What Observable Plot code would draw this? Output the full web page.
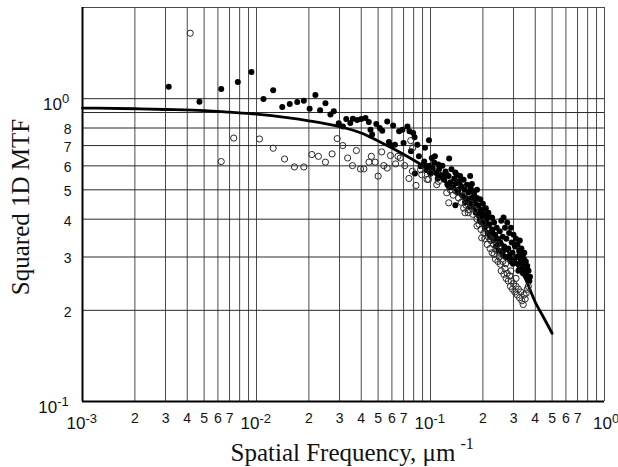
<!DOCTYPE html>
<html><head><meta charset="utf-8">
<script src="https://cdn.jsdelivr.net/npm/d3@7"></script>
<script src="https://cdn.jsdelivr.net/npm/@observablehq/plot@0.6"></script>
<style>body{margin:0;background:#fff} svg{display:block}</style>
</head><body><div id="chart"></div>
<script>
// Model curve (squared 1D MTF)
const curveX = [0.001, 0.002, 0.003, 0.005, 0.007, 0.01, 0.015, 0.02, 0.03, 0.04, 0.05, 0.07, 0.1, 0.13, 0.15, 0.2, 0.25, 0.3, 0.35, 0.4, 0.45, 0.5];
const curveY = [0.931, 0.926, 0.921, 0.913, 0.902, 0.889, 0.866, 0.845, 0.808, 0.77, 0.725, 0.655, 0.578, 0.515, 0.478, 0.402, 0.341, 0.293, 0.255, 0.213, 0.188, 0.168];

// Filled circles
const filledX = [0.00313, 0.0047, 0.00627, 0.00781, 0.00936, 0.01097, 0.01247, 0.01406, 0.01553, 0.01714, 0.01871, 0.0218, 0.0202, 0.0232, 0.0249, 0.0278, 0.0266, 0.0297, 0.0314, 0.0328, 0.0346, 0.0358, 0.0379, 0.04, 0.0423, 0.0442, 0.0452, 0.0462, 0.0488, 0.0511, 0.0528, 0.0564, 0.061, 0.0577, 0.0596, 0.0625, 0.066, 0.069, 0.0737, 0.0757, 0.0795, 0.081, 0.070, 0.0772, 0.084, 0.0858, 0.093, 0.098, 0.0877, 0.0915, 0.1017, 0.106, 0.111, 0.128, 0.0814, 0.124, 0.139, 0.148, 0.169, 0.173, 0.139, 0.176, 0.185,
  0.092, 0.095, 0.098, 0.10, 0.103, 0.105, 0.108, 0.11, 0.112, 0.115, 0.117, 0.12, 0.122, 0.125, 0.127, 0.13, 0.132, 0.135, 0.137, 0.14, 0.142, 0.145, 0.147, 0.15, 0.152, 0.155, 0.157, 0.16, 0.162, 0.165, 0.167, 0.17, 0.172, 0.175, 0.178, 0.18, 0.183, 0.185, 0.188, 0.19, 0.193, 0.195, 0.198, 0.20, 0.203, 0.205, 0.208, 0.21, 0.213, 0.215, 0.218, 0.22, 0.223, 0.226, 0.23, 0.232, 0.235, 0.238, 0.24, 0.243, 0.246, 0.25, 0.252, 0.255, 0.258, 0.26, 0.263, 0.265, 0.268, 0.27, 0.273, 0.276, 0.28, 0.283, 0.286, 0.29, 0.293, 0.296, 0.30, 0.303, 0.306, 0.31, 0.313, 0.316, 0.32, 0.323, 0.326, 0.33, 0.333, 0.336, 0.34, 0.343, 0.346, 0.35, 0.353, 0.356, 0.36, 0.363, 0.366, 0.37, 0.373, 0.32, 0.34, 0.28, 0.26, 0.29, 0.197, 0.212, 0.226,
  0.118, 0.128, 0.143, 0.158, 0.168, 0.182, 0.192, 0.207, 0.217, 0.228, 0.245, 0.262, 0.278, 0.298, 0.318, 0.338, 0.358, 0.305, 0.325, 0.345];
const filledY = [1.095, 0.977, 1.076, 1.134, 1.224, 0.997, 1.067, 0.938, 0.96, 0.975, 0.985, 1.028, 0.927, 0.915, 0.965, 0.908, 0.886, 0.829, 0.809, 0.857, 0.831, 0.859, 0.85, 0.857, 0.863, 0.837, 0.79, 0.761, 0.825, 0.8, 0.784, 0.841, 0.815, 0.719, 0.70, 0.705, 0.78, 0.79, 0.81, 0.78, 0.77, 0.746, 0.714, 0.67, 0.705, 0.645, 0.688, 0.729, 0.598, 0.606, 0.637, 0.645, 0.606, 0.635, 0.566, 0.561, 0.57, 0.555, 0.555, 0.523, 0.445, 0.495, 0.47,
  0.62, 0.58, 0.60, 0.565, 0.59, 0.615, 0.57, 0.545, 0.585, 0.56, 0.60, 0.54, 0.575, 0.52, 0.555, 0.53, 0.585, 0.51, 0.545, 0.525, 0.56, 0.50, 0.535, 0.515, 0.48, 0.54, 0.50, 0.47, 0.52, 0.49, 0.455, 0.505, 0.47, 0.44, 0.485, 0.455, 0.425, 0.50, 0.445, 0.41, 0.465, 0.43, 0.39, 0.45, 0.415, 0.375, 0.435, 0.40, 0.36, 0.42, 0.385, 0.35, 0.405, 0.37, 0.34, 0.39, 0.355, 0.325, 0.375, 0.345, 0.315, 0.365, 0.335, 0.395, 0.31, 0.35, 0.405, 0.325, 0.375, 0.30, 0.345, 0.39, 0.32, 0.36, 0.295, 0.375, 0.335, 0.31, 0.355, 0.29, 0.325, 0.345, 0.30, 0.33, 0.285, 0.315, 0.34, 0.295, 0.32, 0.275, 0.305, 0.285, 0.31, 0.27, 0.29, 0.26, 0.28, 0.255, 0.27, 0.25, 0.258, 0.27, 0.265, 0.30, 0.305, 0.29, 0.425, 0.415, 0.404,
  0.55, 0.51, 0.49, 0.455, 0.44, 0.42, 0.395, 0.38, 0.36, 0.355, 0.33, 0.315, 0.30, 0.285, 0.30, 0.29, 0.27, 0.33, 0.31, 0.295];

// Open circles
const openX = [0.00416, 0.00627, 0.0074, 0.0104, 0.01247, 0.0145, 0.01652, 0.01871, 0.0208, 0.0227, 0.0249, 0.0272, 0.0291, 0.0313, 0.0334, 0.0356, 0.0375, 0.0396, 0.0414, 0.0443, 0.0457, 0.0481, 0.05, 0.0524, 0.0539, 0.0564, 0.0589, 0.063, 0.065, 0.067, 0.0711, 0.0752, 0.0787, 0.077, 0.079, 0.0826, 0.089, 0.0974, 0.1086, 0.1273, 0.158, 0.165, 0.185, 0.197,
  0.0877, 0.10, 0.0956, 0.111, 0.124, 0.155, 0.13, 0.135, 0.14, 0.145, 0.15, 0.155, 0.16, 0.165, 0.17, 0.175, 0.18, 0.185, 0.19, 0.195, 0.20, 0.2026, 0.205, 0.21, 0.212, 0.215, 0.22, 0.222, 0.226, 0.23, 0.232, 0.236, 0.24, 0.244, 0.248, 0.252, 0.255, 0.26, 0.264, 0.268, 0.272, 0.276, 0.28, 0.285, 0.288, 0.292, 0.296, 0.30, 0.305, 0.31, 0.315, 0.32, 0.325, 0.33, 0.335, 0.341, 0.345, 0.35, 0.355, 0.36, 0.365, 0.25, 0.27, 0.29, 0.31, 0.22, 0.24];
const openY = [1.645, 0.62, 0.741, 0.736, 0.686, 0.632, 0.595, 0.595, 0.654, 0.645, 0.617, 0.657, 0.738, 0.70, 0.637, 0.601, 0.674, 0.586, 0.586, 0.617, 0.645, 0.617, 0.555, 0.667, 0.601, 0.59, 0.649, 0.609, 0.645, 0.637, 0.601, 0.545, 0.576, 0.727, 0.688, 0.517, 0.561, 0.541, 0.52, 0.453, 0.42, 0.42, 0.38, 0.347,
  0.583, 0.569, 0.541, 0.533, 0.489, 0.435, 0.50, 0.48, 0.495, 0.47, 0.455, 0.475, 0.445, 0.43, 0.45, 0.415, 0.43, 0.40, 0.385, 0.37, 0.39, 0.36, 0.345, 0.37, 0.33, 0.35, 0.32, 0.34, 0.31, 0.33, 0.306, 0.295, 0.315, 0.29, 0.30, 0.284, 0.27, 0.29, 0.263, 0.275, 0.255, 0.265, 0.25, 0.26, 0.24, 0.25, 0.235, 0.245, 0.23, 0.24, 0.225, 0.235, 0.22, 0.23, 0.215, 0.209, 0.225, 0.218, 0.228, 0.235, 0.24, 0.31, 0.285, 0.27, 0.255, 0.345, 0.33];

// Ticks and labels
const xDecades = [0.001, 0.01, 0.1];
const gridMultipliers = [1, 2, 3, 4, 5, 6, 7, 8, 9];
const xMinorMultipliers = [2, 3, 4, 5, 6, 7];
const xMajorTicks = [0.001, 0.01, 0.1, 1];
const xMajorExp = ["-3", "-2", "-1", "0"];
const yGridValues = [0.2, 0.3, 0.4, 0.5, 0.6, 0.7, 0.8, 0.9, 1];
const yMinorTicks = [0.2, 0.3, 0.4, 0.5, 0.6, 0.7, 0.8];
const yMinorLabels = ["2", "3", "4", "5", "6", "7", "8"];
const yMajorTicks = [0.1, 1];
const yMajorExp = ["-1", "0"];
const xTitle = "Spatial Frequency, \u03bcm";
const xTitleSup = "-1";
const yTitle = "Squared 1D MTF";

const curve = curveX.map((x, i) => ({x, y: curveY[i]}));
const filled = filledX.map((x, i) => ({x, y: filledY[i]}));
const open = openX.map((x, i) => ({x, y: openY[i]}));
const xGrid = xDecades.flatMap(d => gridMultipliers.map(m => d * m)).concat([1]);
const xMinor = xDecades.flatMap(d => xMinorMultipliers.map(m => ({v: d * m, t: String(m)})));
const xMajor = xMajorTicks.map((v, i) => ({v, e: xMajorExp[i]}));
const yMinor = yMinorTicks.map((v, i) => ({v, t: yMinorLabels[i]}));
const yMajor = yMajorTicks.map((v, i) => ({v, e: yMajorExp[i]}));

const sans = "'Liberation Sans', Arial, Helvetica, sans-serif";
const serif = "'Liberation Serif', 'Times New Roman', serif";

const chart = Plot.plot({
  width: 618, height: 467,
  marginLeft: 82, marginRight: 14, marginTop: 7, marginBottom: 66,
  x: {type: "log", domain: [0.001, 1], axis: null},
  y: {type: "log", domain: [0.1, 2], axis: null},
  style: {fontFamily: sans, background: "white", color: "#111"},
  marks: [
    Plot.ruleX(xGrid, {stroke: "#4a4a4a", strokeWidth: 1}),
    Plot.ruleY(yGridValues, {stroke: "#2a2a2a", strokeWidth: 1}),
    Plot.ruleY([2], {stroke: "#4a4a4a", strokeWidth: 1}),
    Plot.ruleX([0.001], {stroke: "#000", strokeWidth: 2}),
    Plot.ruleY([0.1], {stroke: "#000", strokeWidth: 2}),
    Plot.line(curve, {x: "x", y: "y", stroke: "#000", strokeWidth: 2.8, curve: "monotone-x"}),
    Plot.dot(filled, {x: "x", y: "y", r: 3, fill: "#000"}),
    Plot.dot(open, {x: "x", y: "y", r: 3.1, fill: "none", stroke: "#2a2a2a", strokeWidth: 1}),
    // x tick labels
    Plot.text(xMinor, {x: "v", text: "t", frameAnchor: "bottom", dy: 21, fontSize: 14, fill: "#111"}),
    Plot.text(xMajor.filter(d => d.e !== "0"), {x: "v", text: () => "10", frameAnchor: "bottom", textAnchor: "end", dx: 3, dy: 27.5, fontSize: 17, fill: "#111"}),
    Plot.text(xMajor.filter(d => d.e !== "0"), {x: "v", text: "e", frameAnchor: "bottom", textAnchor: "start", dx: 3, dy: 21.5, fontSize: 13, fill: "#111"}),
    Plot.text(xMajor.filter(d => d.e === "0"), {x: "v", text: () => "10", frameAnchor: "bottom", textAnchor: "end", dx: 7.5, dy: 27.5, fontSize: 17, fill: "#111"}),
    Plot.text(xMajor.filter(d => d.e === "0"), {x: "v", text: "e", frameAnchor: "bottom", textAnchor: "start", dx: 7.5, dy: 21.5, fontSize: 13, fill: "#111"}),
    // y tick labels
    Plot.text(yMinor, {y: "v", text: "t", frameAnchor: "left", textAnchor: "end", dx: -11, dy: 2, fontSize: 14, fill: "#111"}),
    Plot.text(yMajor.filter(d => d.e === "0"), {y: "v", text: () => "10", frameAnchor: "left", textAnchor: "end", dx: -20.5, dy: 6, fontSize: 17, fill: "#111"}),
    Plot.text(yMajor.filter(d => d.e === "0"), {y: "v", text: "e", frameAnchor: "left", textAnchor: "start", dx: -20.5, dy: 0, fontSize: 13, fill: "#111"}),
    Plot.text(yMajor.filter(d => d.e !== "0"), {y: "v", text: () => "10", frameAnchor: "left", textAnchor: "end", dx: -25.3, dy: 6, fontSize: 17, fill: "#111"}),
    Plot.text(yMajor.filter(d => d.e !== "0"), {y: "v", text: "e", frameAnchor: "left", textAnchor: "start", dx: -25.3, dy: 0, fontSize: 13, fill: "#111"}),
    // axis titles
    Plot.text([xTitle], {text: d => d, frameAnchor: "bottom", textAnchor: "start", lineAnchor: "bottom", dx: -113, dy: 59, fontSize: 25, fontFamily: serif, fill: "#111"}),
    Plot.text([xTitleSup], {text: d => d, frameAnchor: "bottom", textAnchor: "start", lineAnchor: "bottom", dx: 117, dy: 47, fontSize: 16, fontFamily: serif, fill: "#111"}),
    Plot.text([yTitle], {text: d => d, frameAnchor: "left", rotate: -90, textAnchor: "middle", lineAnchor: "bottom", dx: -53.5, dy: 2.5, fontSize: 25, fontFamily: serif, fill: "#111"})
  ]
});
document.getElementById("chart").appendChild(chart);
</script>
</body></html>
